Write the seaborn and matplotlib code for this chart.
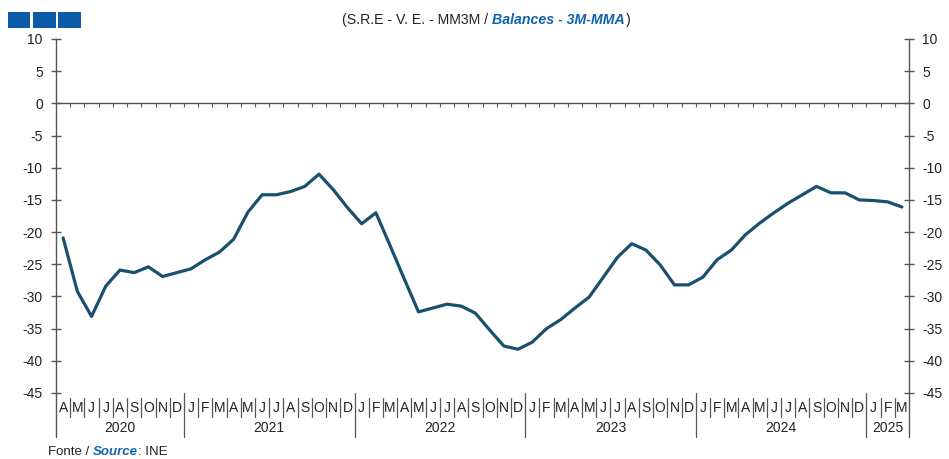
import numpy as np
import pandas as pd
import seaborn as sns
import matplotlib.pyplot as plt
import matplotlib.transforms as mtransforms
from matplotlib.patches import Rectangle

# monthly balances, 3-month moving average, Apr 2020 - Mar 2025
months = pd.date_range('2020-04-01', '2025-03-01', freq='MS')
balances = [
    -20.9, -29.2, -33.1, -28.4, -25.9, -26.3, -25.4, -26.9, -26.3,          # 2020
    -25.7, -24.3, -23.1, -21.1, -16.9, -14.2, -14.2, -13.7, -12.9, -11.0, -13.4, -16.2,  # 2021
    -18.7, -17.0, -22.1, -27.3, -32.4, -31.8, -31.2, -31.5, -32.6, -35.2, -37.7, -38.2,  # 2022
    -37.1, -35.0, -33.6, -31.8, -30.1, -27.0, -23.9, -21.8, -22.8, -25.1, -28.2, -28.2,  # 2023
    -27.0, -24.3, -22.8, -20.4, -18.6, -17.0, -15.5, -14.2, -12.9, -13.9, -13.9, -15.0,  # 2024
    -15.1, -15.3, -16.1,                                                      # 2025
]
month_letters = ['J', 'F', 'M', 'A', 'M', 'J', 'J', 'A', 'S', 'O', 'N', 'D']
yticks = list(range(-45, 11, 5))

sns.set_style('white')
plt.rcParams['font.family'] = ['Liberation Sans', 'DejaVu Sans']
plt.rcParams['axes.unicode_minus'] = False

df = pd.DataFrame({'date': months, 'value': balances})
df['pos'] = np.arange(len(df)) + 0.5
df['letter'] = [month_letters[d.month - 1] for d in df.date]
df['year'] = df.date.dt.year

line_col = '#1a4f6e'
blue = '#1463ad'
txt_col = '#222222'

fig = plt.figure(figsize=(9.49, 4.59), dpi=100)
ax = fig.add_axes([56 / 949, 1 - 393 / 459, (909 - 56) / 949, 354 / 459])

sns.lineplot(data=df, x='pos', y='value', color=line_col, linewidth=2.3,
             ax=ax, legend=False)

ax.set_xlim(0, len(df))
ax.set_ylim(-45, 10)
ax.set_yticks(yticks)
ax.set_yticklabels([str(v) for v in yticks])
ax.set_xticks([])
ax.set_xlabel('')
ax.set_ylabel('')
for s in ['top', 'bottom']:
    ax.spines[s].set_visible(False)
for s in ['left', 'right']:
    ax.spines[s].set_color('#555555')
    ax.spines[s].set_linewidth(1.0)
ax.tick_params(axis='y', which='both', direction='inout', length=7, width=1,
               color='#555555', left=True, right=True, labelleft=True,
               labelright=True, labelsize=10, labelcolor=txt_col, pad=6)

# zero line with small month ticks
ax.axhline(0, color='#555555', linewidth=1.0)
bounds = np.arange(1, len(df))
ax.vlines(bounds, -0.5, 0, color='#555555', linewidth=0.8)

# month / year axis labels below plot
trans = mtransforms.blended_transform_factory(ax.transData, ax.transAxes)
for _, r in df.iterrows():
    ax.text(r.pos, -0.042, r.letter, transform=trans, ha='center', va='center',
            fontsize=10, color=txt_col)
for b in bounds:
    is_year = df.date.iloc[b].month == 1
    y1 = -0.124 if is_year else -0.068
    y0 = 0.0 if is_year else -0.014
    ax.plot([b, b], [y0, y1], transform=trans, color='#555555',
            linewidth=0.9, clip_on=False)
for x in [0, len(df)]:
    ax.plot([x, x], [0, -0.124], transform=trans, color='#555555',
            linewidth=1.0, clip_on=False)
for yr, g in df.groupby('year'):
    ax.text(g.pos.mean(), -0.099, str(yr), transform=trans, ha='center',
            va='center', fontsize=10, color=txt_col)

# title with mixed styles
ty = 1 - 20 / 459
t1 = fig.text(342 / 949, ty, '(S.R.E - V. E. - MM3M / ', fontsize=10.2,
              color=txt_col, va='center', ha='left')
t2 = fig.text(0, 0, 'Balances - 3M-MMA', fontsize=10.2, color=blue,
              fontweight='bold', fontstyle='italic', va='center', ha='left')
fig.canvas.draw()
bb = t1.get_window_extent()
t2.set_position((bb.x1 / fig.bbox.width, ty))
fig.canvas.draw()
bb2 = t2.get_window_extent()
fig.text(bb2.x1 / fig.bbox.width + 0.001, ty, ')', fontsize=10.2,
         color=txt_col, va='center', ha='left')

# footer
fy = 1 - 452 / 459
f1 = fig.text(48 / 949, fy, 'Fonte / ', fontsize=9.5, color=txt_col,
              va='center', ha='left')
fig.canvas.draw()
fb = f1.get_window_extent()
f2 = fig.text(fb.x1 / fig.bbox.width, fy, 'Source', fontsize=9.5,
              color=blue, fontweight='bold', fontstyle='italic', va='center',
              ha='left')
fig.canvas.draw()
fb2 = f2.get_window_extent()
fig.text(fb2.x1 / fig.bbox.width, fy, ': INE', fontsize=9.5,
         color=txt_col, va='center', ha='left')

# logo squares
for x0 in [8, 33, 58]:
    fig.patches.append(Rectangle((x0 / 949, 1 - 28 / 459), 22.5 / 949, 16 / 459,
                                 transform=fig.transFigure, facecolor='#0b5aa6',
                                 edgecolor='none'))

fig.savefig('out.png', dpi=100)
